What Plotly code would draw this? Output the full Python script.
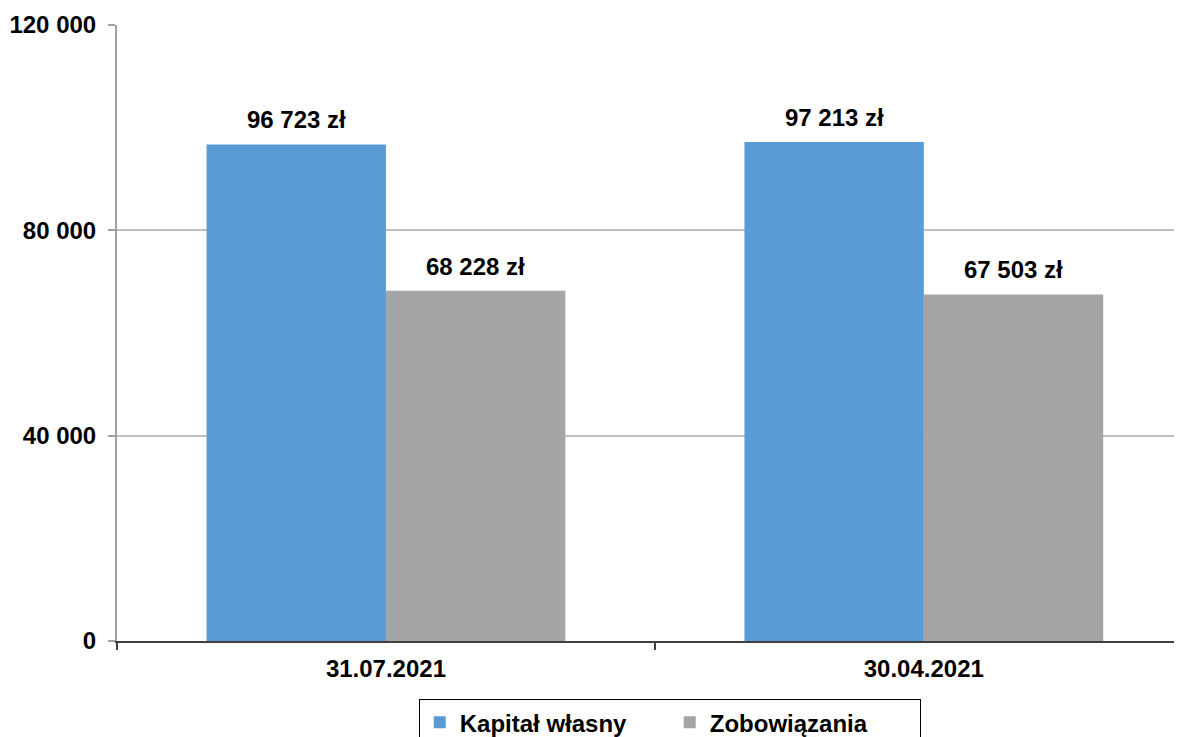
import plotly.graph_objects as go

categories = ["31.07.2021", "30.04.2021"]
kapital = [96723, 97213]
zobowiazania = [68228, 67503]
series_names = ["Kapitał własny", "Zobowiązania"]
colors = ["#5B9BD5", "#A5A5A5"]

FONT = "Liberation Sans, Arial, sans-serif"

fig = go.Figure()
for name, vals, col in zip(series_names, [kapital, zobowiazania], colors):
    fig.add_trace(go.Bar(x=categories, y=vals, name=name, marker=dict(color=col, line=dict(width=0))))

def fmt(v):
    return f"{v:,}".replace(",", " ") + " zł"

bar_px = 179.5
for vals, shift in [(kapital, -bar_px / 2), (zobowiazania, bar_px / 2)]:
    for c, v in zip(categories, vals):
        fig.add_annotation(x=c, y=v, xref="x", yref="y", text=fmt(v), showarrow=False,
                           xshift=shift, yshift=9, yanchor="bottom",
                           font=dict(family=FONT, size=24, color="black", weight="bold"))

fig.update_layout(
    width=1174, height=729,
    margin=dict(l=109, r=0, t=17, b=96, autoexpand=False),
    paper_bgcolor="white", plot_bgcolor="white",
    barmode="group", bargap=0.333, bargroupgap=0,
    separators=", ",
    showlegend=True,
    legend=dict(orientation="h", x=0.519, xanchor="center", y=-0.0945, yanchor="top",
                bgcolor="white", bordercolor="black", borderwidth=1,
                entrywidth=205, entrywidthmode="pixels",
                font=dict(family=FONT, size=24, color="black", weight="bold")),
    font=dict(family=FONT, size=24, color="black"),
)
fig.update_xaxes(range=[-0.5, 1.48], showline=True, linecolor="#404040", linewidth=2,
                 ticks="outside", ticklen=7, tickwidth=2, tickcolor="#404040",
                 tickson="boundaries", showgrid=False, ticklabelstandoff=5,
                 tickfont=dict(family=FONT, size=24, color="black", weight="bold"))
fig.update_yaxes(range=[0, 120000], tickvals=[0, 40000, 80000, 120000], tickformat=",d",
                 showline=True, linecolor="#A0A0A0", linewidth=2,
                 ticks="outside", ticklen=7, tickwidth=2, tickcolor="#A0A0A0",
                 showgrid=True, gridcolor="#C0C0C0", gridwidth=2, zeroline=False,
                 ticklabelstandoff=7,
                 tickfont=dict(family=FONT, size=24, color="black", weight="bold"))

fig.write_html("out.html",
               post_script="document.documentElement.style.overflow='hidden';document.body.style.overflow='hidden';")
